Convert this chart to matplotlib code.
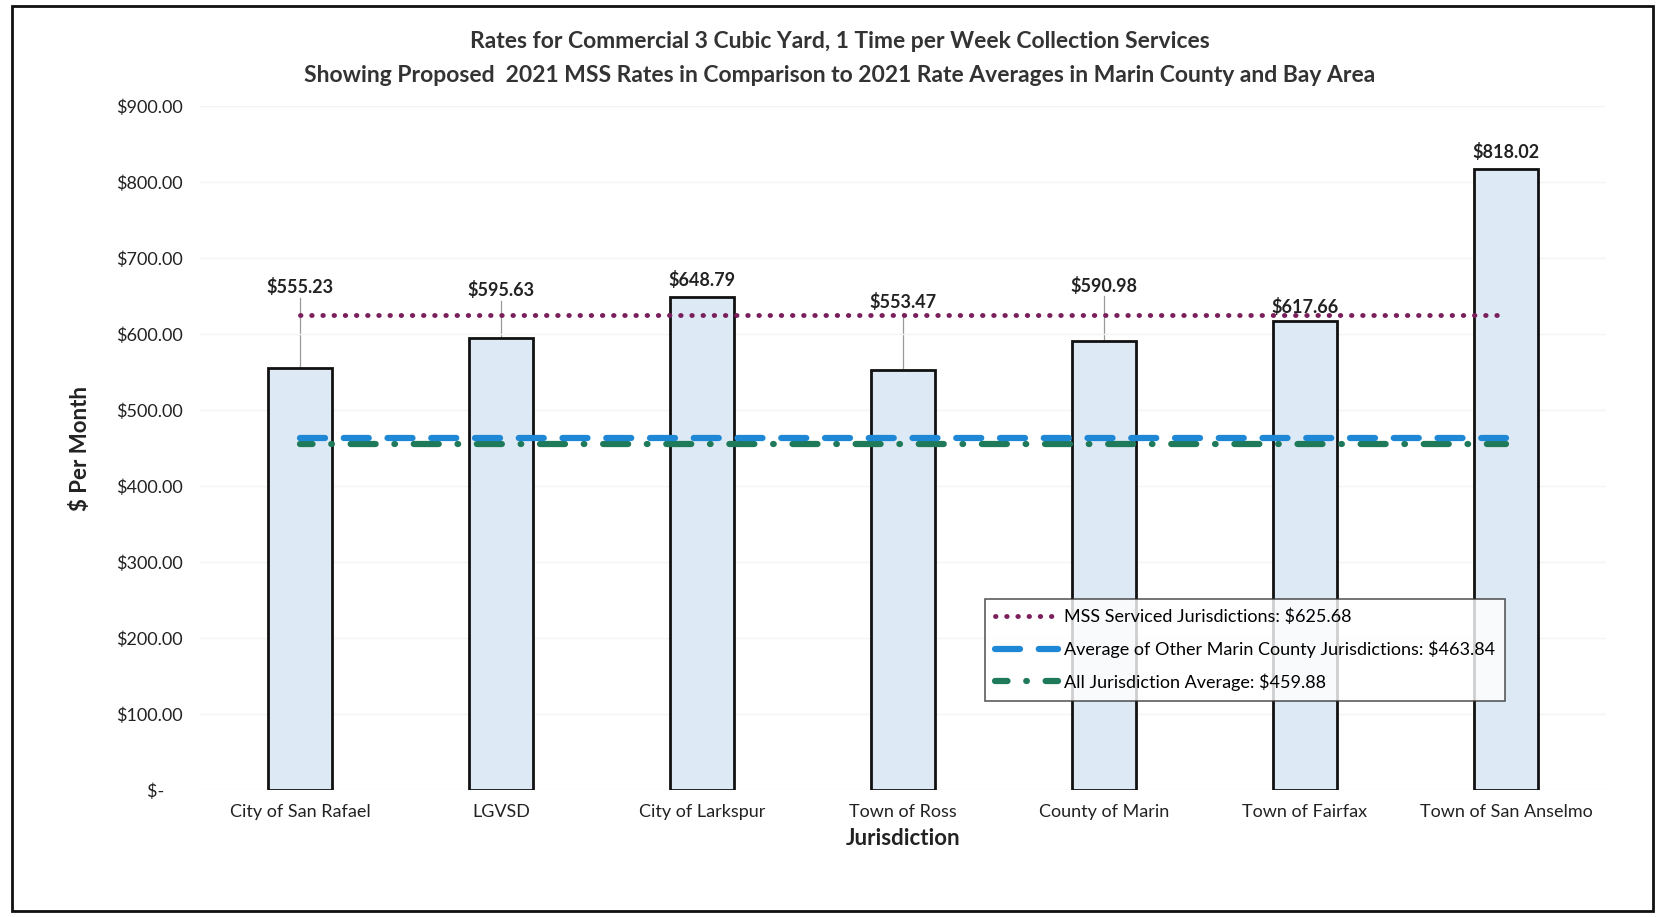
import matplotlib.pyplot as plt
from matplotlib.patches import Rectangle
from matplotlib.ticker import FuncFormatter

plt.rcParams['font.family'] = ['Lato', 'DejaVu Sans']

jurisdictions = ['City of San Rafael', 'LGVSD', 'City of Larkspur', 'Town of Ross',
                 'County of Marin', 'Town of Fairfax', 'Town of San Anselmo']
rates = [555.23, 595.63, 648.79, 553.47, 590.98, 617.66, 818.02]
# where the data labels were dragged to (value units)
label_y = [662, 658, 672, 642, 664, 636, 840]
leader = [True, True, False, True, True, False, False]

mss_avg = 625.68
marin_avg = 463.84
all_avg = 459.88

fig = plt.figure(figsize=(16.63, 9.17), dpi=100)
ax = fig.add_axes([0.120, 0.1385, 0.846, 0.7455])

x = list(range(len(jurisdictions)))
ax.bar(x, rates, width=0.32, color='#dde9f4', edgecolor='#111111', linewidth=2, zorder=2)

for xi, r, ly, ld in zip(x, rates, label_y, leader):
    ax.text(xi, ly, '${:.2f}'.format(r), ha='center', va='center',
            fontsize=13, fontweight='bold', color='#222222', zorder=5)
    if ld:
        ax.plot([xi, xi], [r, ly - 14], color='#999999', lw=0.9, zorder=1)

ax.plot([x[0], x[-1]], [mss_avg, mss_avg], color='#7a1f5c', lw=3.5,
        linestyle=(0, (0.1, 2.2)), dash_capstyle='round', zorder=4,
        label='MSS Serviced Jurisdictions: ${:.2f}'.format(mss_avg))
ax.plot([x[0], x[-1]], [marin_avg, marin_avg], color='#1e88d6', lw=4.5,
        linestyle=(0, (4, 3)), dash_capstyle='round', zorder=4,
        label='Average of Other Marin County Jurisdictions: ${:.2f}'.format(marin_avg))
ax.plot([x[0], x[-1]], [all_avg - 4, all_avg - 4], color='#1f7a5a', lw=4.5,
        linestyle=(2, (4, 3, 0.1, 3)), dash_capstyle='round', zorder=3,
        label='All Jurisdiction Average: ${:.2f}'.format(all_avg))

ax.set_xlim(-0.5, 6.5)
ax.set_ylim(0, 900)
ax.set_yticks(range(0, 901, 100))
ax.yaxis.set_major_formatter(FuncFormatter(lambda v, p: '$-    ' if v == 0 else '${:.2f}'.format(v)))
ax.set_xticks(x)
ax.set_xticklabels(jurisdictions)
ax.tick_params(length=0, labelsize=13, colors='#222222')
ax.tick_params(axis='y', pad=12)
ax.tick_params(axis='x', pad=10)
ax.grid(axis='y', color='#f4f4f4', lw=1, zorder=0)
for s in ax.spines.values():
    s.set_visible(False)

ax.set_ylabel('$ Per Month', fontsize=16, fontweight='bold', labelpad=18, color='#222222')
ax.set_xlabel('Jurisdiction', fontsize=16, fontweight='bold', labelpad=6, color='#222222')

fig.text(0.505, 0.955, 'Rates for Commercial 3 Cubic Yard, 1 Time per Week Collection Services',
         ha='center', va='center', fontsize=16.5, fontweight='bold', color='#333333')
fig.text(0.505, 0.918, 'Showing Proposed  2021 MSS Rates in Comparison to 2021 Rate Averages in Marin County and Bay Area',
         ha='center', va='center', fontsize=16.5, fontweight='bold', color='#333333')

leg = ax.legend(loc='upper left', bbox_to_anchor=(0.587, 0.357), bbox_transform=fig.transFigure,
                fontsize=13, frameon=True, fancybox=False, edgecolor='#333333',
                handlelength=3.5, handletextpad=0.3, labelspacing=0.85, borderpad=0.55)
leg.get_frame().set_linewidth(1.2)

fig.patches.append(Rectangle((0.007, 0.006), 0.987, 0.988, transform=fig.transFigure,
                             fill=False, edgecolor='#111111', lw=2))

fig.savefig('out.png', dpi=100)
